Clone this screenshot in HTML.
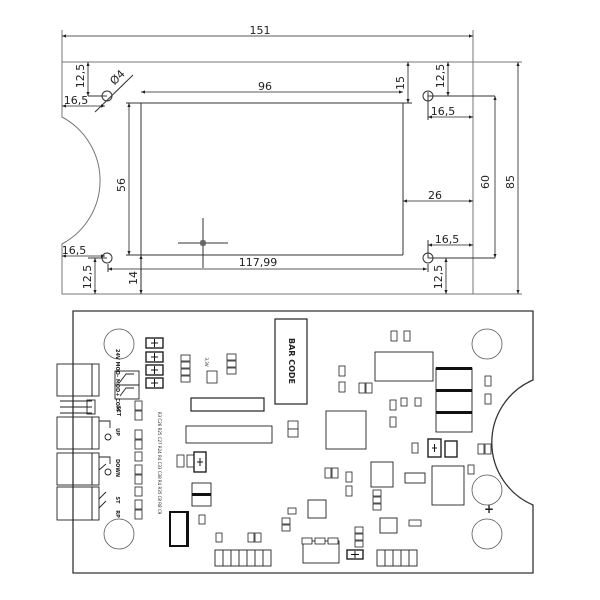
<!DOCTYPE html>
<html><head><meta charset="utf-8"><style>
html,body{margin:0;padding:0;background:#fff}
svg{display:block}
text{font-family:"DejaVu Sans","Liberation Sans",sans-serif;fill:#222}
</style></head><body>
<svg width="600" height="600" viewBox="0 0 600 600" xmlns="http://www.w3.org/2000/svg">
<defs>
<marker id="a" viewBox="0 0 10 10" refX="10" refY="5" markerWidth="6" markerHeight="5" orient="auto-start-reverse"><path d="M0,1 L10,5 L0,9z" fill="#222"/></marker>
</defs>
<!-- TOP DRAWING -->
<g stroke="#777" stroke-width="1" fill="none">
<path d="M62,62 H473 V294 H62 V244 A72,72 0 0 0 62,117 Z"/>
<line x1="62" y1="30" x2="62" y2="62"/><line x1="473" y1="30" x2="473" y2="62"/>
<line x1="473" y1="62" x2="522" y2="62"/><line x1="473" y1="294" x2="522" y2="294"/>
</g>
<g stroke="#333" stroke-width="1" fill="none">
<path d="M126,103 H412 M141,103 V294 M403,103 V255 M126,255 H403"/>
<circle cx="107" cy="96" r="5"/><circle cx="428" cy="96" r="5"/>
<circle cx="107" cy="258" r="5"/><circle cx="428" cy="258" r="5"/>
<line x1="178" y1="243" x2="228" y2="243"/><line x1="203" y1="218" x2="203" y2="268"/>
<rect x="201" y="241" width="4" height="4"/>
<path d="M88,96 H107 M88,258 H107 M428,96 H495 M428,258 H495 M428,92 V120 M428,240 V258 M108,264 V272 M428,264 V272"/>
<line x1="95" y1="112" x2="133" y2="75"/>
</g>
<g stroke="#222" stroke-width="0.8" fill="none">
<line x1="62" y1="36" x2="473" y2="36" marker-start="url(#a)" marker-end="url(#a)"/>
<line x1="141" y1="92" x2="403" y2="92" marker-start="url(#a)" marker-end="url(#a)"/>
<line x1="408" y1="62" x2="408" y2="103" marker-start="url(#a)" marker-end="url(#a)"/>
<line x1="129" y1="103" x2="129" y2="255" marker-start="url(#a)" marker-end="url(#a)"/>
<line x1="141" y1="255" x2="141" y2="294" marker-start="url(#a)" marker-end="url(#a)"/>
<line x1="108" y1="269" x2="427" y2="269" marker-start="url(#a)" marker-end="url(#a)"/>
<line x1="88" y1="62" x2="88" y2="96" marker-start="url(#a)" marker-end="url(#a)"/>
<line x1="62" y1="106" x2="105" y2="106" marker-start="url(#a)" marker-end="url(#a)"/>
<line x1="448" y1="62" x2="448" y2="96" marker-start="url(#a)" marker-end="url(#a)"/>
<line x1="495" y1="96" x2="495" y2="258" marker-start="url(#a)" marker-end="url(#a)"/>
<line x1="518" y1="62" x2="518" y2="294" marker-start="url(#a)" marker-end="url(#a)"/>
<line x1="428" y1="117" x2="473" y2="117" marker-start="url(#a)" marker-end="url(#a)"/>
<line x1="403" y1="201" x2="473" y2="201" marker-start="url(#a)" marker-end="url(#a)"/>
<line x1="428" y1="245" x2="473" y2="245" marker-start="url(#a)" marker-end="url(#a)"/>
<line x1="446" y1="258" x2="446" y2="294" marker-start="url(#a)" marker-end="url(#a)"/>
<line x1="62" y1="256" x2="105" y2="256" marker-start="url(#a)" marker-end="url(#a)"/>
<line x1="95" y1="258" x2="95" y2="294" marker-start="url(#a)" marker-end="url(#a)"/>
</g>
<g font-size="11" text-anchor="middle">
<text x="260" y="34">151</text>
<text x="265" y="90">96</text>
<text x="258" y="266">117,99</text>
<text x="435" y="199">26</text>
<text x="76" y="104">16,5</text>
<text x="443" y="115">16,5</text>
<text x="447" y="243">16,5</text>
<text x="74" y="254">16,5</text>
<text transform="translate(84,76) rotate(-90)">12,5</text>
<text transform="translate(444,76) rotate(-90)">12,5</text>
<text transform="translate(91,277) rotate(-90)">12,5</text>
<text transform="translate(442,277) rotate(-90)">12,5</text>
<text transform="translate(404,83) rotate(-90)">15</text>
<text transform="translate(125,185) rotate(-90)">56</text>
<text transform="translate(137,278) rotate(-90)">14</text>
<text transform="translate(489,182) rotate(-90)">60</text>
<text transform="translate(514,182) rotate(-90)">85</text>
<text transform="translate(120,80) rotate(-45)">Ø4</text>
</g>
<!-- PCB -->
<g stroke="#333" stroke-width="1.3" fill="none">
<path d="M73,311 H533 V380 A68,68 0 0 0 533,505 V573 H73 Z"/>
</g>
<g stroke="#555" stroke-width="0.8" fill="none">
<circle cx="119" cy="344" r="15"/><circle cx="119" cy="534" r="15"/>
<circle cx="487" cy="344" r="15"/><circle cx="487" cy="490" r="15"/><circle cx="487" cy="534" r="15"/>
</g>
<g stroke="#222" stroke-width="0.9" fill="none">
<rect x="57" y="364" width="35" height="32"/><rect x="92" y="364" width="7" height="32"/>
<rect x="57" y="417" width="35" height="32"/><rect x="92" y="417" width="7" height="32"/>
<rect x="57" y="453" width="35" height="32"/><rect x="92" y="453" width="7" height="32"/>
<rect x="57" y="487" width="35" height="33"/><rect x="92" y="487" width="7" height="33"/>
<path d="M60,401 H92 M60,407 H92 M60,413 H92"/><rect x="87" y="400" width="8" height="14"/>
<rect x="115" y="371" width="24" height="14"/><rect x="115" y="385" width="24" height="14"/>
<path d="M120,382 L126,374 H134 M120,396 L126,388 H134"/>
<path d="M99,421 H110 V428 M99,457 H110 V464 M99,470 L106,464 M99,499 L106,492 M99,508 L106,501"/>
<circle cx="108" cy="437" r="3"/><circle cx="108" cy="472" r="3"/>
<rect x="275" y="319" width="32" height="85" stroke-width="1.2"/>
<rect x="191" y="398" width="73" height="13" stroke-width="1.2"/>
<rect x="186" y="426" width="86" height="17"/>
<rect x="326" y="411" width="40" height="38"/>
<rect x="375" y="352" width="58" height="29"/>
<rect x="436" y="368" width="36" height="64"/>
<rect x="432" y="466" width="32" height="39"/>
<rect x="371" y="462" width="22" height="25"/>
<rect x="405" y="473" width="20" height="10"/>
<rect x="308" y="500" width="18" height="18"/>
<rect x="380" y="518" width="17" height="15"/>
<rect x="192" y="483" width="19" height="23"/>
<rect x="303" y="541" width="36" height="22"/>
<rect x="215" y="550" width="56" height="16"/>
<path d="M223,550 V566 M231,550 V566 M239,550 V566 M247,550 V566 M255,550 V566 M263,550 V566"/>
<rect x="377" y="550" width="40" height="16"/>
<path d="M385,550 V566 M393,550 V566 M401,550 V566 M409,550 V566"/>
</g>
<g fill="#111">
<rect x="436" y="367" width="36" height="3"/><rect x="436" y="389" width="36" height="3"/><rect x="436" y="411" width="36" height="3"/>
<rect x="192" y="493" width="19" height="3"/>
<rect x="169" y="511" width="20" height="36"/>
</g>
<rect x="171" y="513" width="15" height="32" fill="#fff"/>
<g stroke="#222" stroke-width="0.8" fill="#fff">
<rect x="146" y="338" width="17" height="10" stroke-width="1.4"/><rect x="146" y="352" width="17" height="10" stroke-width="1.4"/>
<rect x="146" y="365" width="17" height="10" stroke-width="1.4"/><rect x="146" y="378" width="17" height="10" stroke-width="1.4"/>
<rect x="181" y="355" width="9" height="6"/><rect x="181" y="362" width="9" height="6"/><rect x="181" y="369" width="9" height="6"/><rect x="181" y="376" width="9" height="6"/>
<rect x="227" y="354" width="9" height="6"/><rect x="227" y="361" width="9" height="6"/><rect x="227" y="368" width="9" height="6"/>
<rect x="207" y="371" width="10" height="12"/>
<rect x="135" y="401" width="7" height="9"/><rect x="135" y="411" width="7" height="9"/><rect x="135" y="430" width="7" height="9"/><rect x="135" y="440" width="7" height="9"/>
<rect x="135" y="452" width="7" height="9"/><rect x="135" y="465" width="7" height="9"/><rect x="135" y="475" width="7" height="9"/><rect x="135" y="487" width="7" height="9"/>
<rect x="135" y="500" width="7" height="9"/><rect x="135" y="510" width="7" height="9"/>
<rect x="177" y="455" width="7" height="12"/><rect x="187" y="455" width="7" height="12"/><rect x="194" y="452" width="12" height="20" stroke-width="1.4"/>
<rect x="288" y="421" width="10" height="8"/><rect x="288" y="429" width="10" height="8"/>
<rect x="339" y="366" width="6" height="10"/><rect x="339" y="382" width="6" height="10"/>
<rect x="359" y="383" width="6" height="10"/><rect x="366" y="383" width="6" height="10"/>
<rect x="391" y="331" width="6" height="10"/><rect x="404" y="331" width="6" height="10"/>
<rect x="390" y="400" width="6" height="10"/><rect x="401" y="398" width="6" height="8"/><rect x="415" y="398" width="6" height="8"/>
<rect x="390" y="417" width="6" height="10"/><rect x="412" y="443" width="6" height="10"/>
<rect x="428" y="439" width="13" height="18" stroke-width="1.4"/><rect x="445" y="441" width="12" height="16" stroke-width="1.4"/>
<rect x="478" y="444" width="6" height="10"/><rect x="485" y="444" width="6" height="10"/>
<rect x="468" y="465" width="6" height="9"/>
<rect x="485" y="376" width="6" height="10"/><rect x="485" y="394" width="6" height="10"/>
<rect x="325" y="468" width="6" height="10"/><rect x="332" y="468" width="6" height="10"/>
<rect x="346" y="472" width="6" height="10"/><rect x="346" y="486" width="6" height="10"/>
<rect x="373" y="490" width="8" height="6"/><rect x="373" y="497" width="8" height="6"/><rect x="373" y="504" width="8" height="6"/>
<rect x="288" y="508" width="8" height="6"/><rect x="282" y="518" width="8" height="6"/><rect x="282" y="525" width="8" height="6"/>
<rect x="302" y="538" width="10" height="6"/><rect x="315" y="538" width="10" height="6"/><rect x="328" y="538" width="10" height="6"/>
<rect x="355" y="527" width="8" height="6"/><rect x="355" y="534" width="8" height="6"/><rect x="355" y="541" width="8" height="6"/>
<rect x="347" y="550" width="16" height="9" stroke-width="1.4"/>
<rect x="409" y="520" width="12" height="6"/>
<rect x="216" y="533" width="6" height="9"/><rect x="248" y="533" width="6" height="9"/><rect x="255" y="533" width="6" height="9"/>
<rect x="199" y="515" width="6" height="9"/>
</g>
<g stroke="#111" stroke-width="1">
<path d="M151,343 H158 M154.5,339 V347 M151,357 H158 M154.5,353 V361 M151,370 H158 M154.5,366 V374 M151,383 H158 M154.5,379 V387 M197,462 H203 M200,458 V466 M432,448 H437 M434.5,444 V452 M351,554.5 H359 M355,551 V558"/>
</g>
<g font-size="6" text-anchor="middle" font-weight="bold">
<text transform="translate(289,361) rotate(90)" font-size="8">BAR CODE</text>
<text transform="translate(116,380) rotate(90)" font-size="5">24V MOD- MOD+ COM</text>
<text transform="translate(117,411) rotate(90)" font-size="5">SET</text>
<text transform="translate(116,432) rotate(90)" font-size="5">UP</text>
<text transform="translate(116,468) rotate(90)" font-size="5">DOWN</text>
<text transform="translate(116,500) rotate(90)" font-size="5">ST</text>
<text transform="translate(116,514) rotate(90)" font-size="5">RP</text>
<text transform="translate(158,463) rotate(90)" font-size="4" font-weight="normal">R3 C26 R25 C27 R24 R4 C33 C38 R4 R35 C8 R8 C9</text>
<text transform="translate(205,362) rotate(90)" font-size="4" font-weight="normal">3,3V</text>
<text x="489" y="513" font-size="12">+</text>
</g>
</svg>
</body></html>
